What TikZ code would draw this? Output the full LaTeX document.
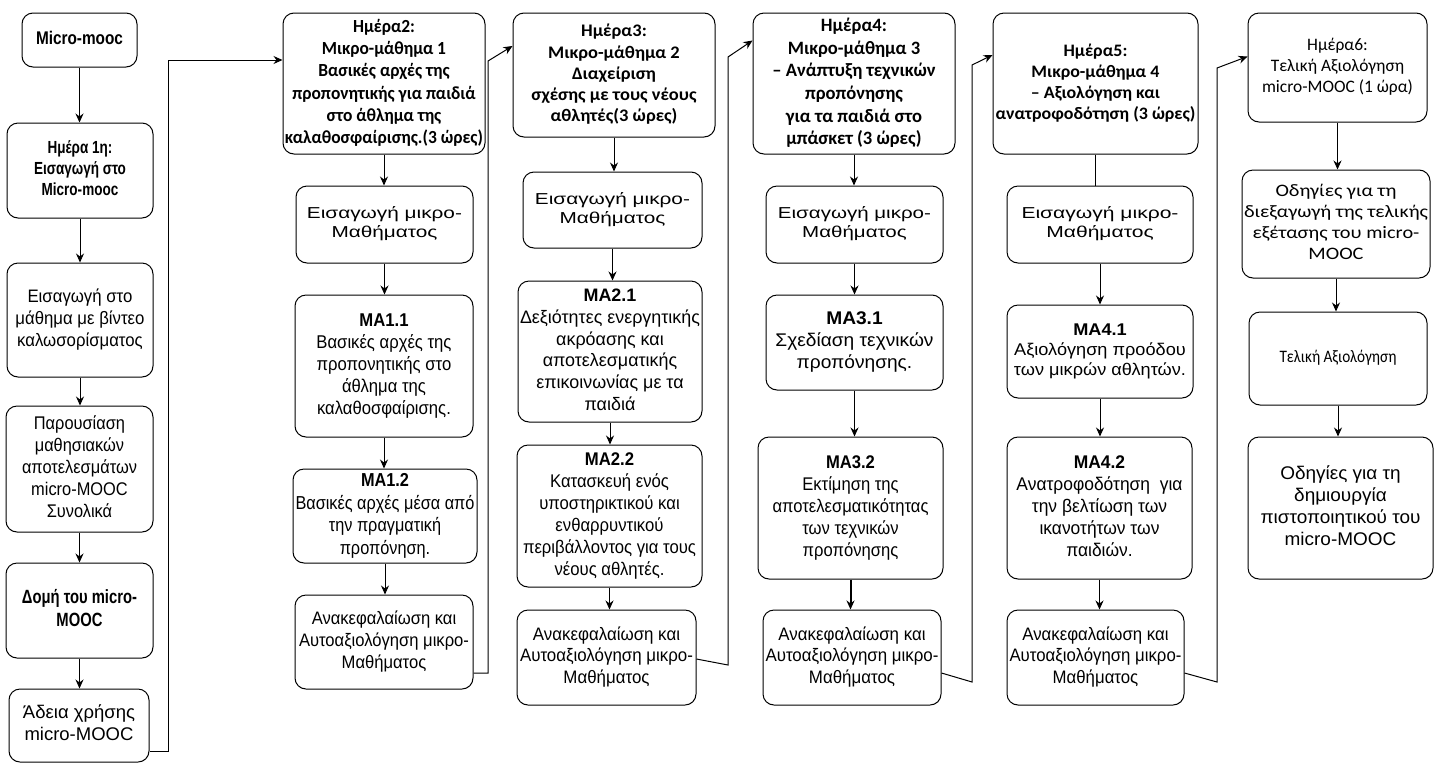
\documentclass[tikz,border=0pt]{standalone}
\usepackage{graphicx}
\usepackage{fontspec}
\setmainfont{Liberation Sans}
\newfontfamily\narA{Liberation Sans}[FakeStretch=0.8]
\newfontfamily\calfont{Carlito}
\usetikzlibrary{arrows.meta}
\newcommand\fit[3]{\resizebox*{#1pt}{#2pt}{\begin{tabular}{@{}c@{}}#3\end{tabular}}}
\tikzset{
  box/.style={draw, line width=1pt, rounded corners=11pt, inner sep=0pt, align=center},
  arr/.style={-{Stealth[length=9pt,width=8pt]}, line width=1pt},
  ln/.style={line width=1pt},
  rg/.style={font=\fontsize{10}{12}\selectfont},
  na/.style={font=\narA\fontsize{10}{12}\selectfont},
  nab/.style={font=\narA\bfseries\fontsize{10}{12}\selectfont},
  hd/.style={font=\calfont\bfseries\fontsize{10}{12}\selectfont},
  cl/.style={font=\calfont\fontsize{10}{12}\selectfont}
}
\begin{document}
\begin{tikzpicture}[x=1pt,y=-1pt]
\useasboundingbox (0,0) rectangle (1438,764);
% column 1
\node[box,nab,minimum width=115pt,minimum height=54pt] (c1a) at (79.5,40) {\fit{87}{22}{Micro-mooc}};
\node[box,nab,minimum width=146pt,minimum height=95pt] (c1b) at (80,170.5) {\fit{92}{63}{Ημέρα 1η:\\Εισαγωγή στο\\Micro-mooc}};
\node[box,rg,minimum width=146pt,minimum height=114pt] (c1c) at (80,320) {\fit{129}{65}{Εισαγωγή στο\\μάθημα με βίντεο\\καλωσορίσματος}};
\node[box,na,minimum width=147pt,minimum height=126pt] (c1d) at (79.5,469) {\fit{115}{110}{Παρουσίαση\\μαθησιακών\\αποτελεσμάτων\\micro-MOOC\\Συνολικά}};
\node[box,nab,minimum width=147pt,minimum height=95pt] (c1e) at (79.5,610.5) {\fit{115}{46}{Δομή του micro-\\MOOC}};
\node[box,rg,minimum width=140pt,minimum height=73pt] (c1f) at (79,725.5) {\fit{112}{44}{Άδεια χρήσης\\micro-MOOC}};
% column 2
\node[box,hd,minimum width=202pt,minimum height=141pt] (c2a) at (384,83.5) {\fit{198}{133}{Ημέρα2:\\Μικρο-μάθημα 1\\Βασικές αρχές της\\προπονητικής για παιδιά\\στο άθλημα της\\καλαθοσφαίρισης.(3 ώρες)}};
\node[box,rg,minimum width=177pt,minimum height=77pt] (c2b) at (384.5,224.5) {\fit{155}{38}{Εισαγωγή μικρο-\\Μαθήματος}};
\node[box,na,minimum width=178pt,minimum height=142pt] (c2c) at (384,366) {\fit{135}{111}{\textbf{MA1.1}\\Βασικές αρχές της\\προπονητικής στο\\άθλημα της\\καλαθοσφαίρισης.}};
\node[box,na,minimum width=184pt,minimum height=94pt] (c2d) at (385,516) {\fit{179}{90}{\textbf{MA1.2}\\Βασικές αρχές μέσα από\\την πραγματική\\προπόνηση.}};
\node[box,na,minimum width=178pt,minimum height=94pt] (c2e) at (384,642) {\fit{170}{65}{Ανακεφαλαίωση και\\Αυτοαξιολόγηση μικρο-\\Μαθήματος}};
% column 3
\node[box,hd,minimum width=202pt,minimum height=124pt] (c3a) at (614,75) {\fit{165}{106}{Ημέρα3:\\Μικρο-μάθημα 2\\Διαχείριση\\σχέσης με τους νέους\\αθλητές(3 ώρες)}};
\node[box,rg,minimum width=179pt,minimum height=76pt] (c3b) at (612.5,210) {\fit{155}{38}{Εισαγωγή μικρο-\\Μαθήματος}};
\node[box,na,minimum width=184pt,minimum height=141pt] (c3c) at (610,351.5) {\fit{180}{130}{\textbf{MA2.1}\\Δεξιότητες ενεργητικής\\ακρόασης και\\αποτελεσματικής\\επικοινωνίας με τα\\παιδιά}};
\node[box,na,minimum width=185pt,minimum height=142pt] (c3d) at (609.5,516) {\fit{173}{132}{\textbf{MA2.2}\\Κατασκευή ενός\\υποστηρικτικού και\\ενθαρρυντικού\\περιβάλλοντος για τους\\νέους αθλητές.}};
\node[box,na,minimum width=179pt,minimum height=95pt] (c3e) at (606.5,657.5) {\fit{173}{65}{Ανακεφαλαίωση και\\Αυτοαξιολόγηση μικρο-\\Μαθήματος}};
% column 4
\node[box,hd,minimum width=202pt,minimum height=141pt] (c4a) at (854,83.5) {\fit{163}{136}{Ημέρα4:\\Μικρο-μάθημα 3\\– Ανάπτυξη τεχνικών\\προπόνησης\\για τα παιδιά στο\\μπάσκετ (3 ώρες)}};
\node[box,rg,minimum width=177pt,minimum height=77pt] (c4b) at (854.5,224.5) {\fit{153}{38}{Εισαγωγή μικρο-\\Μαθήματος}};
\node[box,na,minimum width=177pt,minimum height=95pt] (c4c) at (854.5,342.5) {\fit{158}{66}{\textbf{MA3.1}\\Σχεδίαση τεχνικών\\προπόνησης.}};
\node[box,na,minimum width=185pt,minimum height=142pt] (c4d) at (850.5,508) {\fit{156}{110}{\textbf{MA3.2}\\Εκτίμηση της\\αποτελεσματικότητας\\των τεχνικών\\προπόνησης}};
\node[box,na,minimum width=178pt,minimum height=95pt] (c4e) at (852,657.5) {\fit{173}{65}{Ανακεφαλαίωση και\\Αυτοαξιολόγηση μικρο-\\Μαθήματος}};
% column 5
\node[box,hd,minimum width=205pt,minimum height=141pt] (c5a) at (1095.5,83.5) {\fit{200}{84}{Ημέρα5:\\Μικρο-μάθημα 4\\– Αξιολόγηση και\\ανατροφοδότηση (3 ώρες)}};
\node[box,rg,minimum width=186pt,minimum height=77pt] (c5b) at (1100,224.5) {\fit{157}{38}{Εισαγωγή μικρο-\\Μαθήματος}};
\node[box,na,minimum width=186pt,minimum height=93pt] (c5c) at (1100,351.5) {\fit{172}{61}{\textbf{MA4.1}\\Αξιολόγηση προόδου\\των μικρών αθλητών.}};
\node[box,na,minimum width=185pt,minimum height=142pt] (c5d) at (1099.5,508) {\fit{166}{110}{\textbf{MA4.2}\\Ανατροφοδότηση\ \ για\\την βελτίωση των\\ικανοτήτων των\\παιδιών.}};
\node[box,na,minimum width=177pt,minimum height=95pt] (c5e) at (1095.5,657.5) {\fit{172}{65}{Ανακεφαλαίωση και\\Αυτοαξιολόγηση μικρο-\\Μαθήματος}};
% column 6
\node[box,cl,minimum width=179pt,minimum height=109pt] (c6a) at (1337.5,67.5) {\fit{151}{63}{Ημέρα6:\\Τελική Αξιολόγηση\\micro-MOOC (1 ώρα)}};
\node[box,cl,minimum width=188pt,minimum height=108pt] (c6b) at (1336,224) {\fit{184}{84}{Οδηγίες για τη\\διεξαγωγή της τελικής\\εξέτασης του micro-\\MOOC}};
\node[box,cl,minimum width=178pt,minimum height=93pt] (c6c) at (1338,358.5) {\fit{117}{21}{Τελική Αξιολόγηση}};
\node[box,na,minimum width=185pt,minimum height=142pt] (c6d) at (1340.5,508) {\fit{160}{88}{Οδηγίες για τη\\δημιουργία\\πιστοποιητικού του\\micro-MOOC}};
% vertical arrows
\foreach \a/\b in {c1a/c1b,c1b/c1c,c1c/c1d,c1d/c1e,c1e/c1f,
  c2a/c2b,c2b/c2c,c2c/c2d,c2d/c2e,
  c3a/c3b,c3b/c3c,c3c/c3d,c3d/c3e,
  c4a/c4b,c4b/c4c,c4c/c4d,
  c5b/c5c,c5c/c5d,c5d/c5e,
  c6a/c6b,c6b/c6c,c6c/c6d}
  \draw[arr] (\a.south) -- (\a.south |- \b.north);
\draw[arr,line width=2pt] (c4d.south) -- (c4d.south |- c4e.north);
\draw[ln] (c5a.south) -- (c5a.south |- c5b.north);
% connectors between columns
\coordinate (j1) at (168,60);
\draw[arr] ([yshift=-26pt]c1f.east) -| (j1) -- ([yshift=23.5pt]c2a.west);
\coordinate (j2a) at (488,673);
\coordinate (j2b) at (488,61);
\draw[arr] ([yshift=-31pt]c2e.east) -- (j2a) -- (j2b) -- ([yshift=29pt]c3a.west);
\coordinate (j3a) at (728,665);
\coordinate (j3b) at (728,57);
\draw[arr] ([yshift=-1.5pt]c3e.east) -- (j3a) -- (j3b) -- ([yshift=43pt]c4a.west);
\coordinate (j4a) at (972,682);
\coordinate (j4b) at (972,65);
\draw[arr] ([yshift=-15.5pt]c4e.east) -- (j4a) -- (j4b) -- ([yshift=28.5pt]c5a.west);
\coordinate (j5a) at (1217,682);
\coordinate (j5b) at (1217,68);
\draw[arr] ([yshift=-15.5pt]c5e.east) -- (j5a) -- (j5b) -- ([yshift=11pt]c6a.west);
\end{tikzpicture}
\end{document}
